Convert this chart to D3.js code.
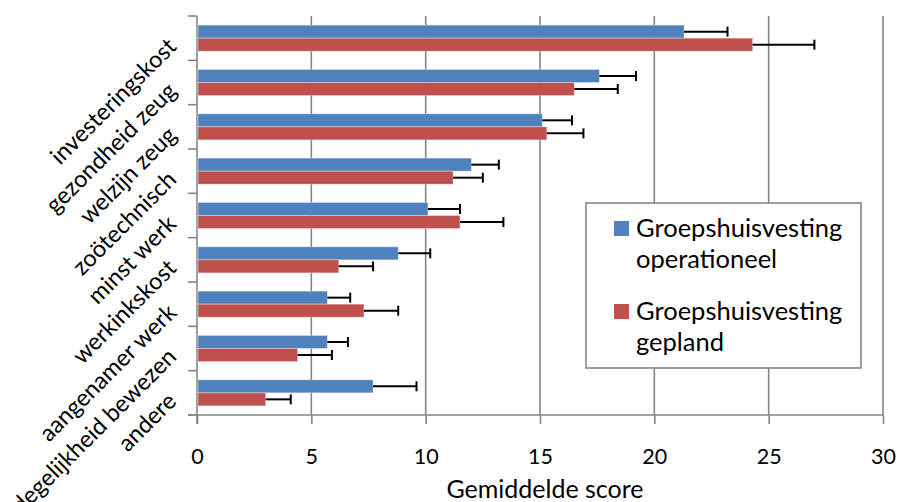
<!DOCTYPE html>
<html>
<head>
<meta charset="utf-8">
<script src="https://cdn.jsdelivr.net/npm/d3@7"></script>
<style>
  html, body { margin: 0; padding: 0; background: #fff; }
  svg { display: block; }
  text { font-family: Lato, "Open Sans", sans-serif; fill: #000; }
</style>
</head>
<body>
<svg id="chart" width="897" height="502"></svg>
<script>
const categories = ["investeringskost", "gezondheid zeug", "welzijn zeug", "zoötechnisch", "minst werk", "werkinkskost", "aangenamer werk", "degelijkheid bewezen", "andere"];
const seriesNames = ["Groepshuisvesting operationeel", "Groepshuisvesting gepland"];
const legendLines = [["Groepshuisvesting", "operationeel"], ["Groepshuisvesting", "gepland"]];
const operationeel = [21.3, 17.6, 15.1, 12.0, 10.1, 8.8, 5.7, 5.7, 7.7];
const operationeelErr = [1.9, 1.6, 1.3, 1.2, 1.4, 1.4, 1.0, 0.9, 1.9];
const gepland = [24.3, 16.5, 15.3, 11.2, 11.5, 6.2, 7.3, 4.4, 3.0];
const geplandErr = [2.7, 1.9, 1.6, 1.3, 1.9, 1.5, 1.5, 1.5, 1.1];
const xTicks = [0, 5, 10, 15, 20, 25, 30];
const xTitle = "Gemiddelde score";
const colors = ["#4F81BD", "#C0504D"];

const svg = d3.select("#chart");
const pLeft = 197, pRight = 883, pTop = 16, pBottom = 415;
const x = d3.scaleLinear().domain([0, 30]).range([pLeft, pRight]);
const gap = 0.7;
const y = d3.scaleBand().domain(categories).range([pTop, pBottom])
  .paddingInner(gap / (1 + gap)).paddingOuter(gap / (1 + gap) / 2);
const ySub = d3.scaleBand().domain([0, 1]).range([0, y.bandwidth()]);

const gridColor = "#868686";

// gridlines
svg.append("g").selectAll("line").data(xTicks.filter(d => d > 0)).join("line")
  .attr("x1", d => x(d)).attr("x2", d => x(d))
  .attr("y1", pTop).attr("y2", pBottom)
  .attr("stroke", gridColor).attr("stroke-width", 1.6);

// x axis
const xAxis = d3.axisBottom(x).tickValues(xTicks).tickSize(9).tickPadding(25).tickFormat(d3.format("d"));
const gx = svg.append("g").attr("transform", `translate(0,${pBottom})`).call(xAxis);
gx.select(".domain").attr("stroke", gridColor).attr("stroke-width", 1.6).attr("d", `M${pLeft - 9},0H${pRight}`);
gx.selectAll(".tick line").attr("stroke", gridColor).attr("stroke-width", 1.6);
gx.selectAll(".tick text").attr("font-size", 21.5).attr("font-family", "Lato").attr("fill", "#000");

// y axis line + boundary ticks
const boundaries = categories.map((c, i) => pTop + i * y.step()).concat([pBottom]);
svg.append("line").attr("x1", pLeft).attr("x2", pLeft).attr("y1", pTop).attr("y2", pBottom + 9)
  .attr("stroke", gridColor).attr("stroke-width", 1.6);
svg.append("g").selectAll("line").data(boundaries).join("line")
  .attr("x1", pLeft - 9).attr("x2", pLeft).attr("y1", d => d).attr("y2", d => d)
  .attr("stroke", gridColor).attr("stroke-width", 1.6);

// y labels rotated
svg.append("g").selectAll("text").data(categories).join("text")
  .attr("transform", d => `translate(172,${y(d) + y.bandwidth() / 2 + 4}) rotate(-45)`)
  .attr("text-anchor", "end").attr("dy", "0.35em").attr("font-size", 23.5)
  .text(d => d);

// bars
const series = [
  { vals: operationeel, errs: operationeelErr },
  { vals: gepland, errs: geplandErr }
];
series.forEach((s, si) => {
  const g = svg.append("g");
  g.selectAll("rect").data(categories).join("rect")
    .attr("x", x(0) + 1)
    .attr("y", (d) => y(d) + ySub(si))
    .attr("width", (d, i) => x(s.vals[i]) - x(0) - 1)
    .attr("height", ySub.bandwidth())
    .attr("fill", colors[si])
    .attr("stroke", "#ffffff").attr("stroke-opacity", 0.35).attr("stroke-width", 1);
  const eg = svg.append("g").attr("stroke", "#000").attr("stroke-width", 2);
  categories.forEach((c, i) => {
    const cy = y(c) + ySub(si) + ySub.bandwidth() / 2;
    eg.append("line").attr("x1", x(s.vals[i])).attr("x2", x(s.vals[i] + s.errs[i])).attr("y1", cy).attr("y2", cy);
    eg.append("line").attr("x1", x(s.vals[i] + s.errs[i])).attr("x2", x(s.vals[i] + s.errs[i])).attr("y1", cy - 5).attr("y2", cy + 5);
  });
});

// x title
svg.append("text").attr("x", 545).attr("y", 498).attr("text-anchor", "middle")
  .attr("font-size", 25).text(xTitle);

// legend
const lg = svg.append("g");
lg.append("rect").attr("x", 586).attr("y", 203).attr("width", 275).attr("height", 165)
  .attr("fill", "#fff").attr("stroke", gridColor).attr("stroke-width", 1.6);
legendLines.forEach((lines, i) => {
  const oy = i * 83;
  lg.append("rect").attr("x", 614).attr("y", 221 + oy).attr("width", 15).attr("height", 15).attr("fill", colors[i]);
  lines.forEach((t, j) => {
    lg.append("text").attr("x", 636).attr("y", 237 + oy + j * 31).attr("font-size", 25.5).text(t);
  });
});
</script>
</body>
</html>
